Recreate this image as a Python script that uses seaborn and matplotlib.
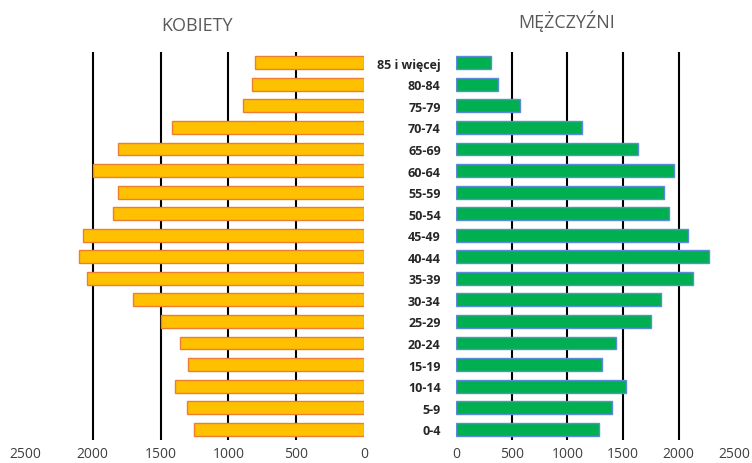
import pandas as pd
import seaborn as sns
import matplotlib.pyplot as plt

# grupy wieku (od góry)
ages = ["85 i więcej", "80-84", "75-79", "70-74", "65-69", "60-64", "55-59",
        "50-54", "45-49", "40-44", "35-39", "30-34", "25-29", "20-24",
        "15-19", "10-14", "5-9", "0-4"]

women = [800, 825, 895, 1415, 1815, 1995, 1815, 1850, 2075, 2105, 2045,
         1705, 1495, 1360, 1295, 1395, 1305, 1250]

men = [310, 375, 575, 1130, 1630, 1955, 1870, 1910, 2080, 2275, 2130,
       1840, 1750, 1435, 1315, 1525, 1400, 1280]

ticks = [0, 500, 1000, 1500, 2000, 2500]

df = pd.DataFrame({"wiek": ages, "K": women, "M": men})

sns.set_style("white")
plt.rcParams["font.family"] = ["Open Sans", "DejaVu Sans"]

fig = plt.figure(figsize=(7.52, 4.64), dpi=100)
ax1 = fig.add_axes([0.0332, 0.0496, 0.4508, 0.8362])
ax2 = fig.add_axes([0.6064, 0.0496, 0.3702, 0.8362])

sns.barplot(data=df, x="K", y="wiek", ax=ax1, color="#FFC000", saturation=1,
            edgecolor="#ED7D31", linewidth=1, width=0.6, zorder=3)
sns.barplot(data=df, x="M", y="wiek", ax=ax2, color="#00B050", saturation=1,
            edgecolor="#5B8BD9", linewidth=1, width=0.6, zorder=3)

ax1.set_xlim(2500, 0)
ax2.set_xlim(0, 2500)

for ax in (ax1, ax2):
    ax.set_ylim(17.5, -0.5)
    ax.set_xticks(ticks)
    ax.set_xticklabels([str(t) for t in ticks], fontsize=10, color="#404040")
    ax.tick_params(axis="both", length=0)
    ax.tick_params(axis="x", pad=4)
    for t in ticks[1:-1]:
        ax.axvline(t, color="black", lw=1.5, zorder=1)
    for s in ax.spines.values():
        s.set_visible(False)
    ax.set_xlabel("")
    ax.set_ylabel("")

ax1.set_yticks([])
ax2.set_yticks(range(len(ages)))
ax2.set_yticklabels(ages, fontsize=9, fontweight="bold", color="#262626")
ax2.tick_params(axis="y", pad=11)

fig.text(0.262, 0.945, "KOBIETY", ha="center", va="center", fontsize=13, color="#595959")
fig.text(0.753, 0.955, "MĘŻCZYŹNI", ha="center", va="center", fontsize=13, color="#595959")

fig.savefig("out.png", dpi=100)
